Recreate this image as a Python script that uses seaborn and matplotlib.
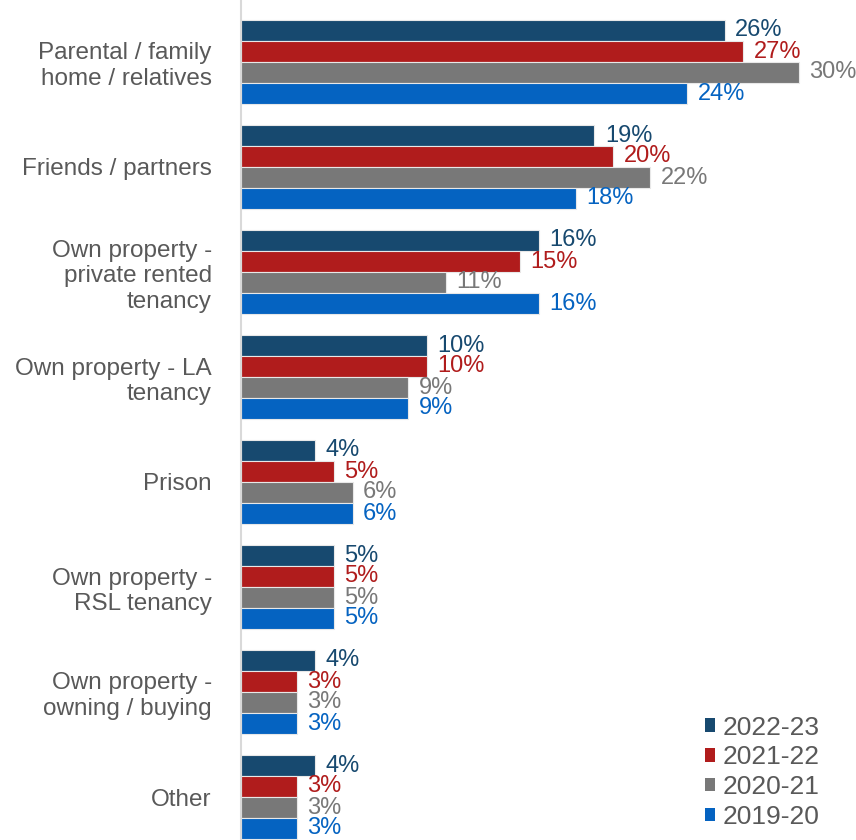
import matplotlib
matplotlib.use("Agg")
import matplotlib.pyplot as plt
import seaborn as sns
import pandas as pd

categories = [
    "Parental / family\nhome / relatives",
    "Friends / partners",
    "Own property -\nprivate rented\ntenancy",
    "Own property - LA\ntenancy",
    "Prison",
    "Own property -\nRSL tenancy",
    "Own property -\nowning / buying",
    "Other",
]
years = ["2022-23", "2021-22", "2020-21", "2019-20"]
v_2022_23 = [26, 19, 16, 10, 4, 5, 4, 4]
v_2021_22 = [27, 20, 15, 10, 5, 5, 3, 3]
v_2020_21 = [30, 22, 11, 9, 6, 5, 3, 3]
v_2019_20 = [24, 18, 16, 9, 6, 5, 3, 3]
colors = ["#17496F", "#B01C1C", "#787878", "#0563C1"]

series = [v_2022_23, v_2021_22, v_2020_21, v_2019_20]
df = pd.DataFrame(
    [(c, y, v) for y, vals in zip(years, series) for c, v in zip(categories, vals)],
    columns=["category", "year", "value"],
)

sns.set_theme(style="white")
plt.rcParams["font.family"] = ["Liberation Sans", "DejaVu Sans"]

fig = plt.figure(figsize=(8.56, 8.40), dpi=100)
ax = fig.add_axes([241 / 856, 0, 1 - 241 / 856, 1])

sns.barplot(
    data=df, y="category", x="value", hue="year", order=categories,
    hue_order=years, palette=colors, saturation=1, orient="h", width=0.8,
    edgecolor="#E8E8E8", linewidth=0.8, ax=ax, legend=True,
)

for cont, col in zip(ax.containers, colors):
    ax.bar_label(cont, labels=[f"{int(round(b.get_width()))}%" for b in cont],
                 padding=7.5, color=col, fontsize=17)

ax.set_xlim(0, (856 - 241) / 18.6)
ax.set_ylim(7.5 - 9.5 / 105, -0.5 - 9.5 / 105)
ax.set_xlabel("")
ax.set_ylabel("")
ax.set_xticks([])
ax.tick_params(axis="y", length=0, pad=21, labelsize=17.5, labelcolor="#595959")
for sp in ["top", "right", "bottom"]:
    ax.spines[sp].set_visible(False)
ax.spines["left"].set_color("#D9D9D9")
ax.spines["left"].set_linewidth(1.5)

leg = ax.legend(
    loc="lower right", bbox_to_anchor=((820 - 241) / 615, 11 / 840), frameon=False,
    fontsize=19, handlelength=0.4, handleheight=0.4, handletextpad=0.3,
    labelspacing=0.22, borderpad=0, borderaxespad=0, labelcolor="#595959",
)
for h in leg.legend_handles:
    h.set_edgecolor("none")

fig.savefig("out.png", dpi=100)
